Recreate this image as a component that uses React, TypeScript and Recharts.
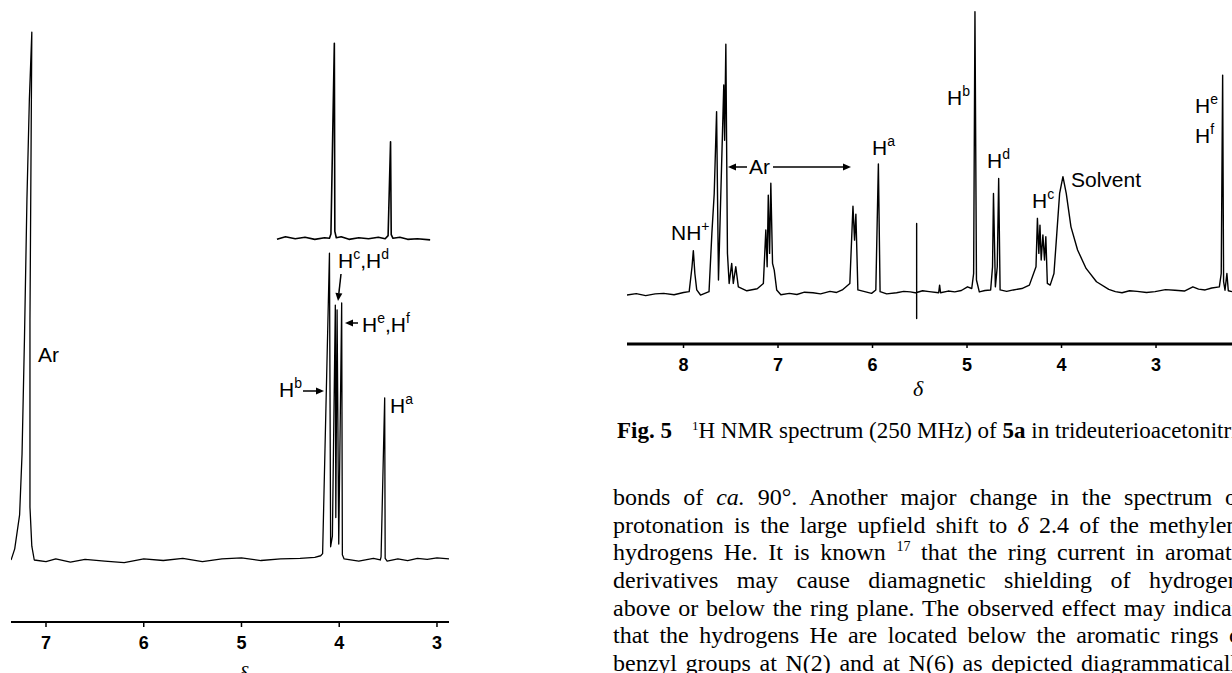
import React from 'react';
import { LineChart, Line, XAxis, YAxis } from 'recharts';

// Left spectrum (free base): chemical shift (ppm) and relative intensity
const leftShift = [
  7.358, 7.35, 7.32, 7.27, 7.245, 7.22, 7.195, 7.17, 7.145, 7.164, 7.164, 7.145, 7.12,
  7.0, 6.9, 6.75, 6.6, 6.4, 6.2, 6.0, 5.8, 5.6, 5.4, 5.2, 5.0, 4.8, 4.6, 4.4, 4.25,
  4.19, 4.17, 4.1, 4.088, 4.07, 4.04, 4.035, 4.022, 4.005, 3.975, 3.968, 3.95,
  3.8, 3.65, 3.58, 3.572, 3.535, 3.53, 3.51, 3.4, 3.3, 3.2, 3.1, 3.0, 2.877,
];
const leftIntensity = [
  0, 0.4, 2.1, 8.5, 20, 42, 68, 87, 99.6, 45.3, 10, 2.6, 0,
  -0.3, 0.2, -0.4, 0.1, -0.2, -0.5, 0.2, -0.1, 0.3, -0.3, 0.2, 0.4, -0.1, 0.2, 0.3, 0.5,
  0.8, 1.2, 57.9, 2.5, 4.5, 48.1, 8, 47.2, 3, 48.5, 1, 0.2,
  -0.2, 0.3, 0, 0.6, 30.6, 0.3, -0.2, 0.2, -0.1, 0.3, 0.1, 0.4, 0.2,
];

// Expanded inset trace (drawn above the main trace)
const insetShift = [
  4.637, 4.55, 4.45, 4.35, 4.25, 4.15, 4.1, 4.085, 4.05, 4.045, 4.03, 3.98, 3.9,
  3.8, 3.7, 3.6, 3.53, 3.5, 3.475, 3.468, 3.45, 3.38, 3.3, 3.2, 3.07,
];
const insetIntensity = [
  60.5, 61.0, 60.6, 60.9, 60.5, 60.8, 60.7, 61.5, 97.5, 62, 60.8, 61.0, 60.5,
  60.8, 60.6, 60.9, 60.6, 61.2, 78.9, 61.4, 60.7, 60.9, 60.5, 60.6, 60.4,
];
const leftTicks = [7, 6, 5, 4, 3];

// Right spectrum (Fig. 5, protonated 5a)
const rightShift = [
  8.598, 8.5, 8.4, 8.3, 8.21, 8.1, 8.0, 7.94, 7.91, 7.896, 7.88, 7.86, 7.82, 7.73,
  7.7, 7.675, 7.65, 7.63, 7.574, 7.565, 7.552, 7.535, 7.517, 7.49, 7.473, 7.447, 7.42,
  7.33, 7.22, 7.155, 7.129, 7.115, 7.103, 7.089, 7.076, 7.058, 7.04, 7.014, 6.97,
  6.88, 6.8, 6.72, 6.63, 6.55, 6.45, 6.38, 6.32, 6.24, 6.207, 6.19, 6.176, 6.155, 6.01,
  5.965, 5.938, 5.92, 5.85, 5.745, 5.67, 5.6, 5.533, 5.533, 5.533, 5.533, 5.47, 5.4,
  5.3, 5.29, 5.28, 5.2, 5.13, 5.06, 4.995, 4.95, 4.93, 4.916, 4.9, 4.87, 4.81, 4.75,
  4.73, 4.72, 4.7, 4.68, 4.665, 4.65, 4.58, 4.51, 4.42, 4.34, 4.27, 4.255, 4.24, 4.228,
  4.215, 4.197, 4.18, 4.166, 4.15, 4.12, 4.08, 4.05, 4.02, 3.985, 3.95, 3.9, 3.83,
  3.74, 3.63, 3.5, 3.43, 3.36, 3.28, 3.2, 3.1, 3.01, 2.9, 2.8, 2.7, 2.61, 2.55, 2.48,
  2.41, 2.33, 2.31, 2.295, 2.285, 2.27, 2.25, 2.235, 2.196,
];
const rightIntensity = [
  -0.7, -0.2, -0.9, -0.3, -0.1, -0.6, 0.2, 0.5, 9.3, 15, 6.9, 1.1, -0.7, 0.5,
  21, 35.2, 64.1, 4.6, 73.5, 54, 87.9, 14, 3.4, 10.5, 3.4, 9.3, 2.2,
  0.8, 1.5, 3.4, 22.3, 9.3, 34.6, 14, 38.8, 10.5, 8.1, 1.1, -0.6,
  -0.1, -0.5, 0.3, 0.1, -0.3, 0.6, 0.2, 1.1, 3.4, 30.7, 18.7, 27.9, 1.1, -0.1,
  1.1, 45.6, 0.5, -0.3, 0.1, 0.6, 0.4, 0, 24.6, -9, 0.2, 0.8, 0.5,
  0.1, 2.8, 0.1, 0.7, 0.4, 0.9, 2.2, 1.6, 6.9, 99.4, 4.6, 0.4, 0.9, 1.1,
  9.3, 35.2, 2.2, 9.3, 40.5, 1.1, 0.6, 1.1, 1.6, 2.8, 9.3, 26.4, 14, 24,
  11.7, 20.5, 11.7, 19.9, 3.4, 2.8, 6.9, 21, 35.2, 41.1, 35.2, 23.4, 15.2,
  8.7, 4, 1.3, 0.5, 0.1, 0.8, 0.6, 0.2, 0.5, 1.2, 1.0, 0.7, 2.2, 1.4, 1.1,
  1.8, 2.2, 6.9, 77, 4, 1, 6.9, 0.8, 0.5,
];
const rightTicks = [8, 7, 6, 5, 4, 3];

const toPoints = (xs: number[], ys: number[]) =>
  xs.map((shift, i) => ({ shift, value: ys[i] }));

const leftData = toPoints(leftShift, leftIntensity);
const insetData = toPoints(insetShift, insetIntensity);
const rightData = toPoints(rightShift, rightIntensity);

const SANS = 'Liberation Sans, Arial, Helvetica, sans-serif';
const SERIF = 'Liberation Serif, Times New Roman, serif';

const tickStyle = { fill: '#000', fontSize: 18, fontWeight: 700, fontFamily: SANS };

// H with a superscript letter, for peak labels
const HLabel = ({ x, y, sup, tail }: { x: number; y: number; sup: string; tail?: React.ReactNode }) => (
  <text x={x} y={y} fontSize={21} fontFamily={SANS} fill="#000">
    H<tspan dy={-9} fontSize={14}>{sup}</tspan>
    {tail}
  </text>
);

const Arrow = ({ x1, y1, x2, y2 }: { x1: number; y1: number; x2: number; y2: number }) => {
  const a = Math.atan2(y2 - y1, x2 - x1);
  const len = 8;
  const w = 3.5;
  const bx = x2 - len * Math.cos(a);
  const by = y2 - len * Math.sin(a);
  const px = -Math.sin(a) * w;
  const py = Math.cos(a) * w;
  return (
    <g>
      <line x1={x1} y1={y1} x2={bx} y2={by} stroke="#000" strokeWidth={1.5} />
      <polygon points={`${x2},${y2} ${bx + px},${by + py} ${bx - px},${by - py}`} fill="#000" />
    </g>
  );
};

const raised = (size: number, lift: number): React.CSSProperties => ({
  fontSize: size,
  position: 'relative',
  top: -lift,
  lineHeight: 0,
});

export default function App() {
  return (
    <div
      style={{
        position: 'absolute',
        left: 0,
        top: 0,
        width: 1232,
        height: 673,
        overflow: 'hidden',
        background: '#fff',
      }}
    >
      {/* left spectrum */}
      <div style={{ position: 'absolute', left: 0, top: 0 }}>
        <LineChart width={460} height={673} margin={{ top: 30, right: 11, left: 11, bottom: 0 }}>
          <XAxis
            type="number"
            dataKey="shift"
            domain={[2.877, 7.358]}
            reversed
            allowDataOverflow
            ticks={leftTicks}
            interval={0}
            height={51}
            axisLine={{ stroke: '#000', strokeWidth: 2 }}
            tickLine={{ stroke: '#000', strokeWidth: 1.5 }}
            tickSize={5}
            tickMargin={9}
            tick={tickStyle}
          />
          <YAxis type="number" domain={[-11.7, 100]} hide width={0} allowDataOverflow />
          <Line data={leftData} dataKey="value" type="linear" dot={false} stroke="#000"
            strokeWidth={1.3} strokeLinejoin="round" isAnimationActive={false} />
          <Line data={insetData} dataKey="value" type="linear" dot={false} stroke="#000"
            strokeWidth={1.6} strokeLinejoin="round" isAnimationActive={false} />
        </LineChart>
      </div>

      {/* right spectrum */}
      <div style={{ position: 'absolute', left: 617, top: 0 }}>
        <LineChart width={615} height={400} margin={{ top: 10, right: 0, left: 10, bottom: 0 }}>
          <XAxis
            type="number"
            dataKey="shift"
            domain={[2.196, 8.598]}
            reversed
            allowDataOverflow
            ticks={rightTicks}
            interval={0}
            height={56}
            axisLine={{ stroke: '#000', strokeWidth: 3 }}
            tickLine={{ stroke: '#000', strokeWidth: 1.5 }}
            tickSize={4}
            tickMargin={10}
            tick={tickStyle}
          />
          <YAxis type="number" domain={[-18, 100]} hide width={0} allowDataOverflow />
          <Line data={rightData} dataKey="value" type="linear" dot={false} stroke="#000"
            strokeWidth={1.4} strokeLinejoin="round" isAnimationActive={false} />
        </LineChart>
      </div>

      {/* peak labels and arrows */}
      <svg width={1232} height={673} style={{ position: 'absolute', left: 0, top: 0, pointerEvents: 'none' }}>
        {/* left figure */}
        <text x={38} y={362} fontSize={21} fontFamily={SANS}>Ar</text>
        <HLabel x={279} y={397} sup="b" />
        <Arrow x1={303} y1={391} x2={324} y2={391} />
        <HLabel x={338} y={268} sup="c" tail={<><tspan dy={9}>,H</tspan><tspan dy={-9} fontSize={14}>d</tspan></>} />
        <Arrow x1={341} y1={274} x2={338} y2={301} />
        <HLabel x={362} y={332} sup="e" tail={<><tspan dy={9}>,H</tspan><tspan dy={-9} fontSize={14}>f</tspan></>} />
        <Arrow x1={358} y1={323} x2={345} y2={323} />
        <HLabel x={390} y={413} sup="a" />
        <text x={243} y={681} fontSize={22} fontStyle="italic" fontFamily={SERIF} textAnchor="middle">δ</text>

        {/* right figure */}
        <text x={671} y={240} fontSize={21} fontFamily={SANS}>
          NH<tspan dy={-9} fontSize={14}>+</tspan>
        </text>
        <Arrow x1={747} y1={167} x2={728} y2={167} />
        <text x={749} y={174} fontSize={21} fontFamily={SANS}>Ar</text>
        <Arrow x1={773} y1={167} x2={851} y2={167} />
        <HLabel x={872} y={155} sup="a" />
        <HLabel x={947} y={105} sup="b" />
        <HLabel x={987} y={168} sup="d" />
        <HLabel x={1032} y={208} sup="c" />
        <text x={1071} y={187} fontSize={21} fontFamily={SANS}>Solvent</text>
        <HLabel x={1195} y={113} sup="e" />
        <HLabel x={1195} y={143} sup="f" />
        <text x={918} y={396} fontSize={22} fontStyle="italic" fontFamily={SERIF} textAnchor="middle">δ</text>
      </svg>

      {/* caption */}
      <div
        style={{
          position: 'absolute',
          left: 617,
          top: 419,
          whiteSpace: 'nowrap',
          fontFamily: SERIF,
          fontSize: 23,
          lineHeight: '23px',
          color: '#000',
        }}
      >
        <b>Fig. 5</b>
        <span style={{ display: 'inline-block', width: 20 }} />
        <span style={raised(13, 8)}>1</span>H NMR spectrum (250 MHz) of <b>5a</b> in
        trideuterioacetonitrile
      </div>

      {/* body text */}
      <div
        style={{
          position: 'absolute',
          left: 613,
          top: 484,
          width: 636,
          fontFamily: SERIF,
          fontSize: 24,
          lineHeight: '27.7px',
          color: '#000',
        }}
      >
        {[
          <>bonds of <i>ca.</i> 90°. Another major change in the spectrum on</>,
          <>protonation is the large upfield shift to <i>δ</i> 2.4 of the methylene</>,
          <>hydrogens He. It is known <span style={raised(14, 9)}>17</span> that the ring current in aromatic</>,
          <>derivatives may cause diamagnetic shielding of hydrogens</>,
          <>above or below the ring plane. The observed effect may indicate</>,
          <>that the hydrogens He are located below the aromatic rings of</>,
          <>benzyl groups at N(2) and at N(6) as depicted diagrammatically</>,
        ].map((line, i) => (
          <div key={i} style={{ textAlign: 'justify', textAlignLast: 'justify', height: 27.7 }}>
            {line}
          </div>
        ))}
      </div>
    </div>
  );
}
